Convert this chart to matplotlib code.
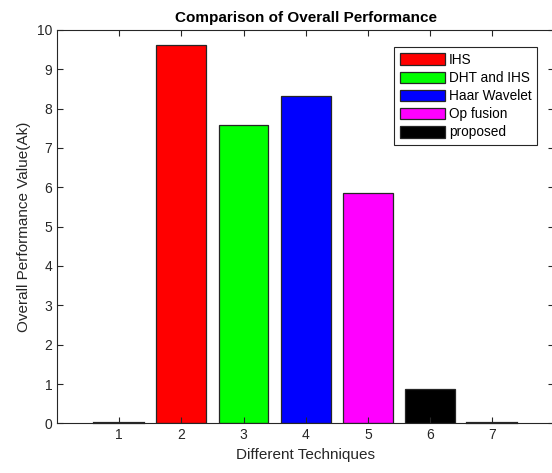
import matplotlib
matplotlib.use("Agg")
import matplotlib.pyplot as plt

plt.rcParams['font.family'] = ['Liberation Sans', 'DejaVu Sans']

techniques = [1, 2, 3, 4, 5, 6, 7]
values = [0.0, 9.63, 7.58, 8.32, 5.86, 0.87, 0.0]
colors = ['#0000ff', '#ff0000', '#00ff00', '#0000ff', '#ff00ff', '#000000', '#000000']
labels = [None, 'IHS', 'DHT and IHS', 'Haar Wavelet', 'Op fusion', 'proposed', None]

fig = plt.figure(figsize=(5.52, 4.73), dpi=100)
ax = fig.add_axes([0.1033, 0.105, 0.901, 0.8316])

for x, v, c, lab in zip(techniques, values, colors, labels):
    ax.bar(x, v, width=0.8, color=c, edgecolor='#262626', linewidth=0.9,
           label=lab if lab else '_nolegend_')
    if v == 0:
        # empty bars still show as a flat line in the original
        ax.plot([x - 0.4, x + 0.4], [0, 0], color='#262626', lw=1.6,
                clip_on=False, zorder=3)

ax.set_xlim(0, 8)
ax.set_ylim(0, 10)
ax.set_xticks(techniques)
ax.set_yticks(range(0, 11))
ax.tick_params(direction='in', top=True, right=True, labelsize=10, length=4,
               colors='#262626', labelcolor='#262626')
for s in ax.spines.values():
    s.set_color('#262626')
    s.set_linewidth(0.8)

ax.set_xlabel('Different Techniques', fontsize=11, color='#262626')
ax.set_ylabel('Overall Performance Value(Ak)', fontsize=11, color='#262626')
ax.set_title('Comparison of Overall Performance', fontsize=11, fontweight='bold', pad=6)

leg = ax.legend(loc='upper right', bbox_to_anchor=(0.966, 0.957), borderaxespad=0,
                fontsize=9.8, handlelength=3.3, handleheight=0.95, handletextpad=0.3,
                labelspacing=0.3, borderpad=0.45, fancybox=False, framealpha=1)
leg.get_frame().set_edgecolor('#262626')
leg.get_frame().set_linewidth(0.8)

fig.savefig('out.png', dpi=100)
